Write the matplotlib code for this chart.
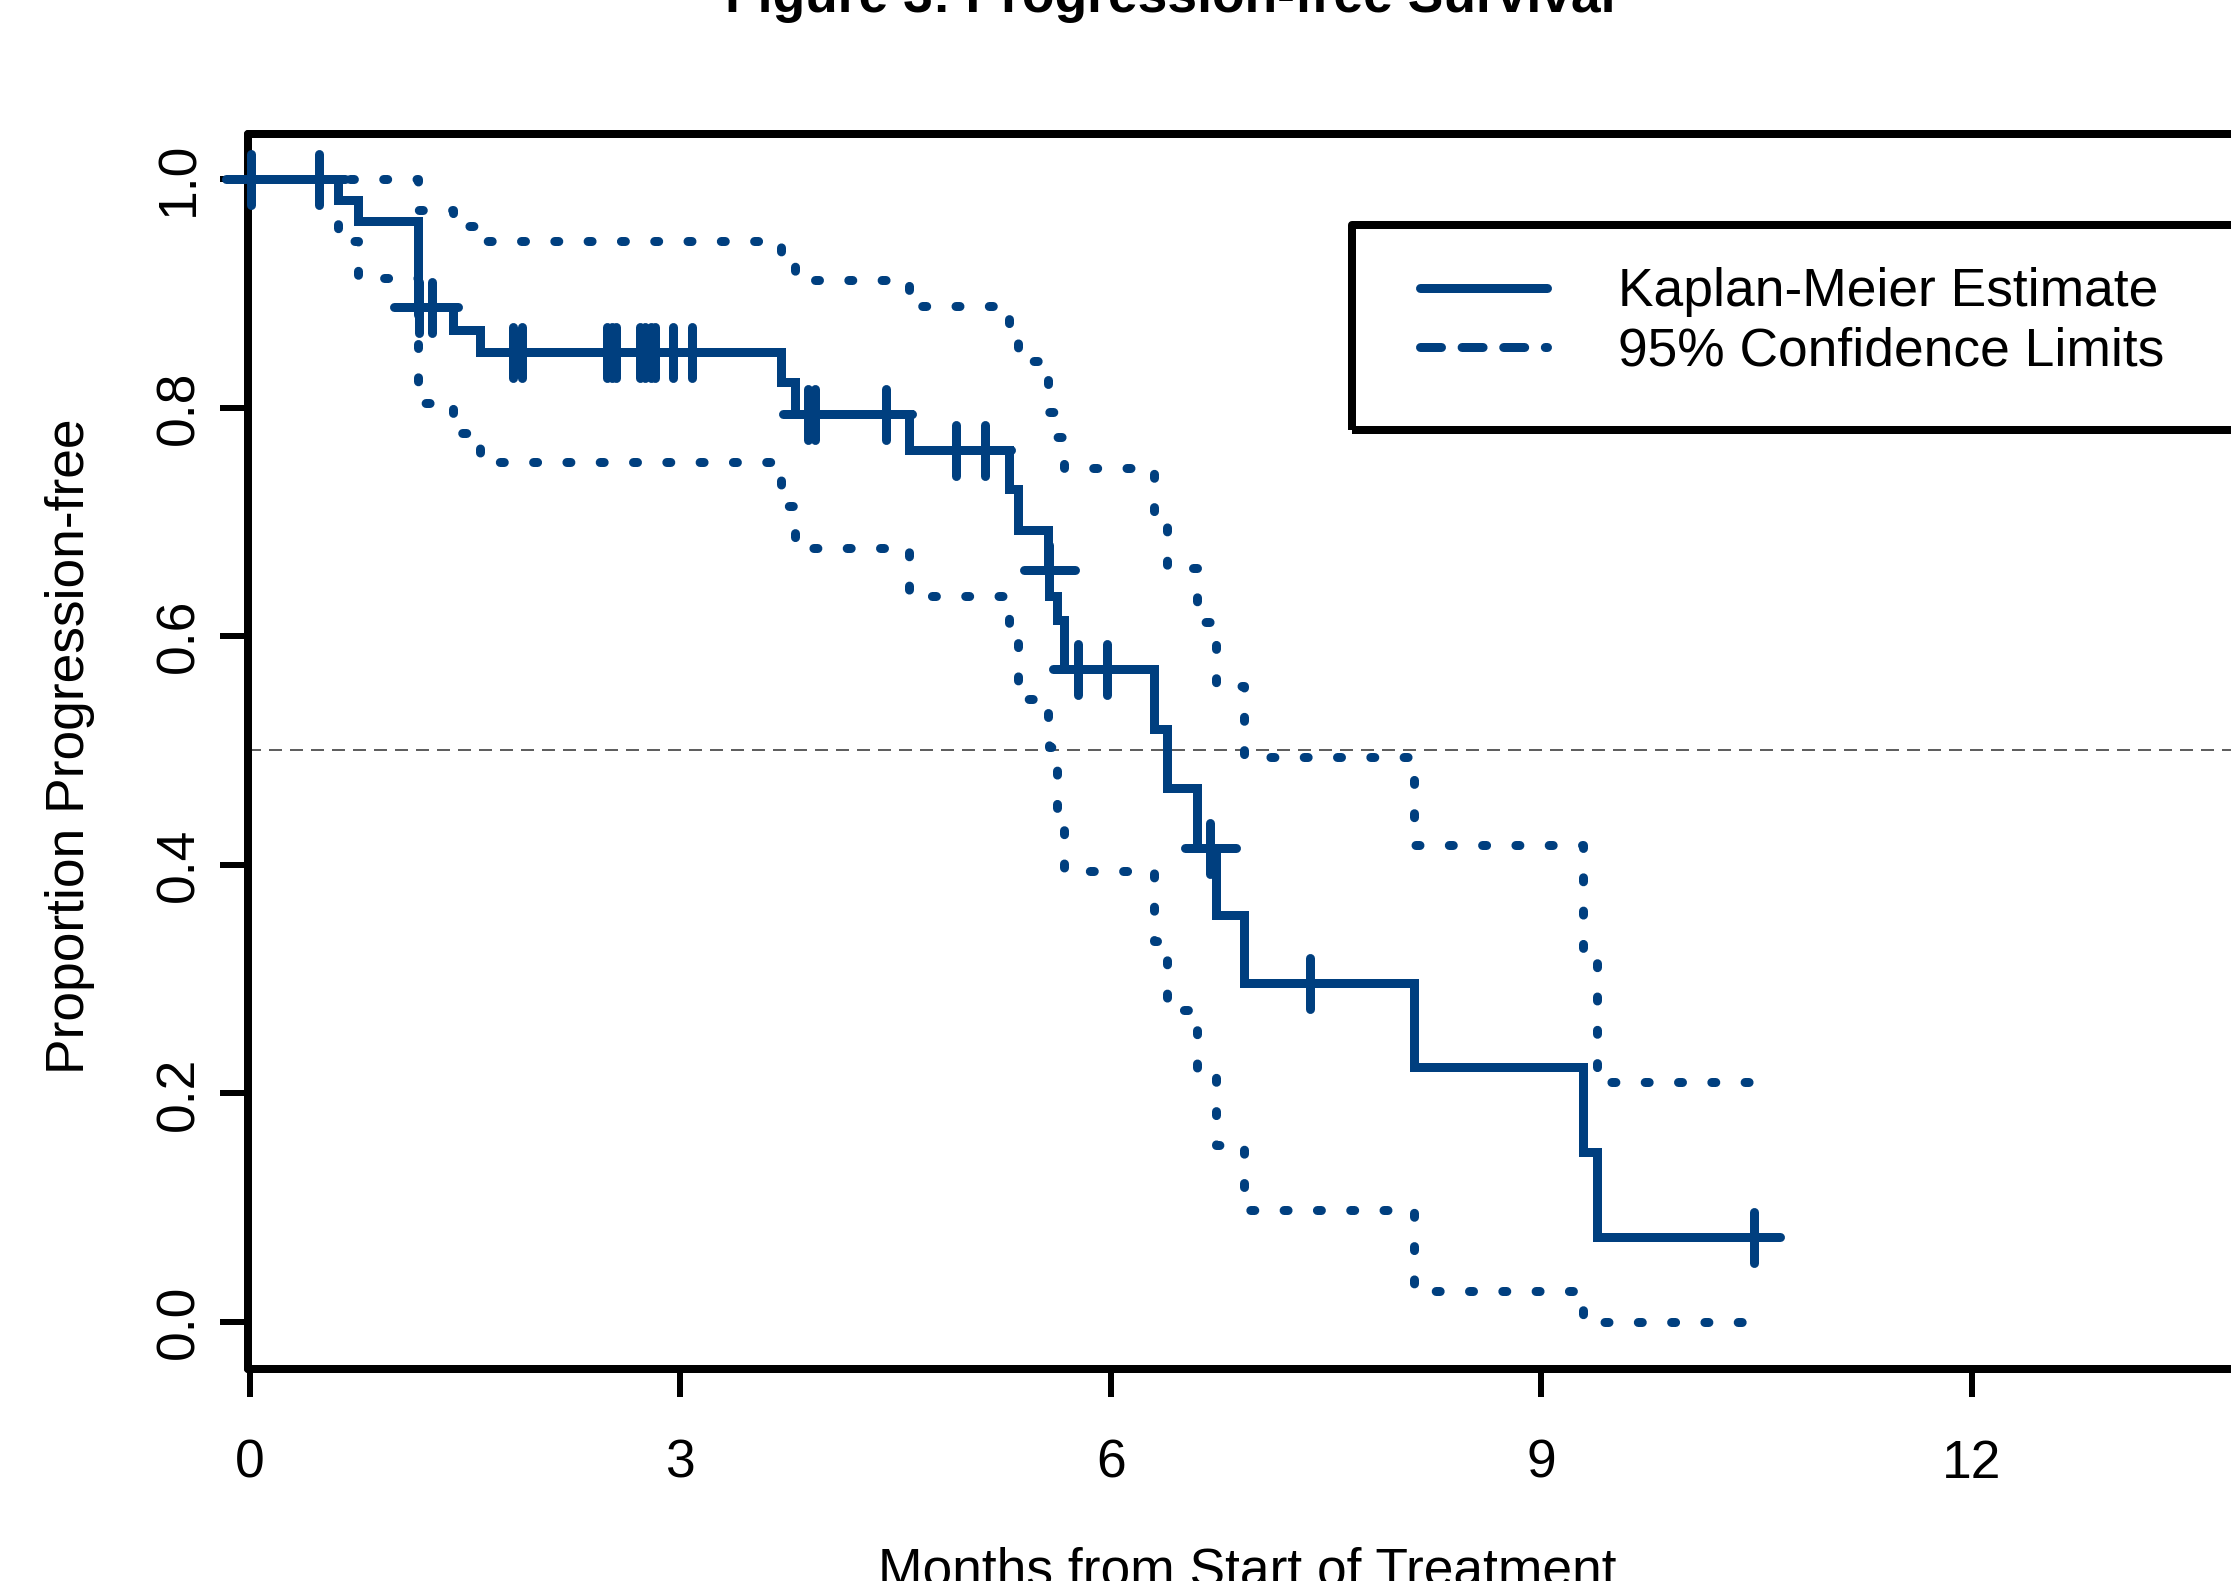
import numpy as np
import matplotlib
matplotlib.use("Agg")
import matplotlib.pyplot as plt
from matplotlib.lines import Line2D
from matplotlib.markers import MarkerStyle
from matplotlib.patches import Rectangle

plt.rcParams['font.family'] = ['Liberation Sans', 'DejaVu Sans']
plt.rcParams['lines.scale_dashes'] = False

# ---------------- data ----------------
km_time = [0.0, 0.612, 0.75, 1.17, 1.413, 1.60, 3.70, 3.80, 4.59, 5.29, 5.35, 5.56, 5.57,
           5.623, 5.674, 6.30, 6.39, 6.60, 6.73, 6.93, 8.11, 9.29, 9.39]
km_surv = [1.0, 0.982, 0.9635, 0.888, 0.868, 0.849, 0.8225, 0.794, 0.763, 0.729, 0.693, 0.658, 0.635,
           0.614, 0.571, 0.519, 0.467, 0.415, 0.356, 0.297, 0.223, 0.149, 0.0744]
ci_upper = [1.0, 1.0, 1.0, 0.973, 0.959, 0.946, 0.932, 0.912, 0.889, 0.870, 0.841, 0.816, 0.796,
            0.774, 0.747, 0.705, 0.660, 0.612, 0.556, 0.494, 0.417, 0.323, 0.210]
ci_lower = [1.0, 0.946, 0.913, 0.804, 0.778, 0.752, 0.714, 0.677, 0.635, 0.595, 0.545, 0.520, 0.503,
            0.447, 0.395, 0.333, 0.273, 0.217, 0.155, 0.098, 0.027, 0.0, 0.0]
last_time = 10.48
censor_time = [0.01, 0.48, 1.175, 1.27, 1.833, 1.894, 2.486, 2.526, 2.553, 2.721, 2.753, 2.793,
               2.820, 2.948, 3.081, 3.89, 3.94, 4.43, 4.918, 5.12, 5.565, 5.77, 5.97, 6.69, 7.39, 10.48]

x_ticks = [0, 3, 6, 9, 12]
x_tick_labels = ["0", "3", "6", "9", "12"]
y_ticks = [0.0, 0.2, 0.4, 0.6, 0.8, 1.0]
y_tick_labels = ["0.0", "0.2", "0.4", "0.6", "0.8", "1.0"]

title = "Figure 3: Progression-free Survival"
xlabel = "Months from Start of Treatment"
ylabel = "Proportion Progression-free"
legend_labels = ["Kaplan-Meier Estimate", "95% Confidence Limits"]

# ---------------- layout ----------------
W, H = 2231, 1581
DPI = 100
PT = 72.0 / DPI  # points per pixel
blue = '#003F7F'
fs = 38.4

fig = plt.figure(figsize=(W / DPI, H / DPI), dpi=DPI)
fig.patch.set_facecolor('white')

px_per_month = 143.5
x0_px = 250.0
left_px, right_px = 248.0, 2450.0
top_px, bot_px = 134.0, 1369.0
xmin = (left_px - x0_px) / px_per_month
xmax = (right_px - x0_px) / px_per_month
ax = fig.add_axes([left_px / W, (H - bot_px) / H, (right_px - left_px) / W, (bot_px - top_px) / H])
ax.set_xlim(xmin, xmax)
ax.set_ylim(-(bot_px - 1322) / 1143.0, 1 + (179 - top_px) / 1143.0)

lw = 9 * PT

t_step = km_time + [last_time]
def ext(a):
    return list(a) + [a[-1]]

# reference line at 0.5
ax.axhline(0.5, color='#2a2a2a', lw=1.5 * PT, dashes=(13 * PT, 8 * PT), zorder=1)

# confidence limits (dotted)
for ci in (ci_upper, ci_lower):
    ax.step(t_step, ext(ci), where='post', color=blue, lw=lw,
            dashes=(4.0 * PT, 29.3 * PT), dash_capstyle='round', solid_capstyle='round', zorder=2)

# KM estimate
ax.step(t_step, ext(km_surv), where='post', color=blue, lw=lw,
        solid_capstyle='round', solid_joinstyle='miter', zorder=3)

# censor marks
kt = np.array(km_time)
ks = np.array(km_surv)
cs = [ks[np.searchsorted(kt, c, side='right') - 1] for c in censor_time]
ax.plot(censor_time, cs, linestyle='none', marker=MarkerStyle('+', capstyle='round'),
        markersize=51 * PT, markeredgewidth=lw, color=blue, clip_on=False, zorder=4)

# axes styling
for s in ax.spines.values():
    s.set_linewidth(8 * PT)
    s.set_capstyle('round')
ax.set_xticks(x_ticks)
ax.set_xticklabels(x_tick_labels)
ax.set_yticks(y_ticks)
ax.set_yticklabels(y_tick_labels)
ax.tick_params(axis='both', direction='out', length=28 * PT, width=6 * PT, labelsize=fs, color='black')
ax.tick_params(axis='x', pad=30)
ax.tick_params(axis='y', pad=11, labelrotation=90)
for lab in ax.get_yticklabels():
    lab.set_va('center')

# texts
fig.text(1170 / W, 1 - 12 / H, title, ha='center', va='baseline', fontsize=fs, fontweight='bold')
fig.text(1247 / W, 1 - 1586 / H, xlabel, ha='center', va='baseline', fontsize=fs)
fig.text(70 / W, 1 - 746 / H, ylabel, ha='center', va='center', rotation=90, fontsize=fs)

# legend
frame = Rectangle((1352 / W, 1 - 430 / H), (2600 - 1352) / W, (430 - 225) / H,
                  transform=fig.transFigure, fill=False, lw=8 * PT, ec='black',
                  joinstyle='round', zorder=5)
fig.add_artist(frame)
h1 = Line2D([], [], color=blue, lw=lw, solid_capstyle='round')
h2 = Line2D([], [], color=blue, lw=lw, dashes=(21 * PT, 20.6 * PT), dash_capstyle='round')
leg = ax.legend([h1, h2], legend_labels, loc='center left',
                bbox_to_anchor=(1420 / W, 1 - 322 / H), bbox_transform=fig.transFigure,
                frameon=False, fontsize=fs, borderpad=0, borderaxespad=0,
                handlelength=127 / (fs / PT), handletextpad=71 / (fs / PT), labelspacing=0.18)

fig.savefig('out.png', dpi=DPI, facecolor='white')
